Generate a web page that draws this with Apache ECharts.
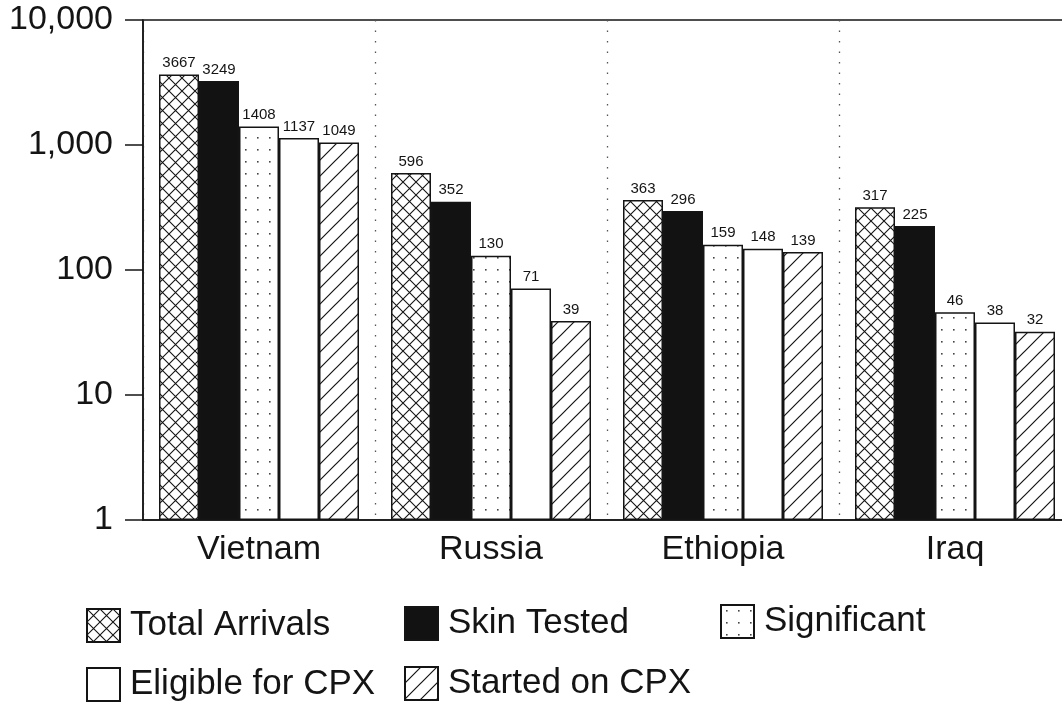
<!DOCTYPE html>
<html>
<head>
<meta charset="utf-8">
<script src="https://cdn.jsdelivr.net/npm/echarts@6/dist/echarts.min.js"></script>
<style>
  html, body { margin: 0; padding: 0; background: #fff; overflow: hidden; }
  /* the source figure is cut off a few pixels past the right edge */
  #chart { width: 1071px; height: 707px; }
</style>
</head>
<body>
<div id="chart"></div>
<script>
// data
var categories = ['Vietnam', 'Russia', 'Ethiopia', 'Iraq'];
var seriesNames = ['Total Arrivals', 'Skin Tested', 'Significant', 'Eligible for CPX', 'Started on CPX'];
var totalArrivals = [3667, 596, 363, 317];
var skinTested = [3249, 352, 296, 225];
var significant = [1408, 130, 159, 46];
var eligible = [1137, 71, 148, 38];
var started = [1049, 39, 139, 32];
var yTicks = [1, 10, 100, 1000, 10000];

var FONT = '"Liberation Sans", Arial, sans-serif';
var INK = '#141414';

// fill patterns
function makeTile(size, draw) {
  var c = document.createElement('canvas');
  c.width = size; c.height = size;
  var ctx = c.getContext('2d');
  ctx.fillStyle = '#fff';
  ctx.fillRect(0, 0, size, size);
  ctx.strokeStyle = INK;
  ctx.fillStyle = INK;
  draw(ctx, size);
  return { image: c, repeat: 'repeat' };
}

var crossFill = makeTile(13, function (ctx, s) {
  ctx.lineWidth = 1.1;
  ctx.beginPath();
  ctx.moveTo(0, 0); ctx.lineTo(s, s);
  ctx.moveTo(s, 0); ctx.lineTo(0, s);
  ctx.stroke();
});
var dotFill = makeTile(12, function (ctx, s) {
  ctx.fillStyle = '#444';
  ctx.fillRect(5, 5, 1.6, 1.6);
});
var hatchFill = makeTile(16, function (ctx, s) {
  ctx.lineWidth = 1.2;
  ctx.beginPath();
  ctx.moveTo(0, s); ctx.lineTo(s, 0);
  ctx.moveTo(-2, 2); ctx.lineTo(2, -2);
  ctx.moveTo(s - 2, s + 2); ctx.lineTo(s + 2, s - 2);
  ctx.stroke();
});
var fills = [crossFill, '#121212', dotFill, '#ffffff', hatchFill];
var values = [totalArrivals, skinTested, significant, eligible, started];

function withCommas(v) {
  return String(Math.round(v)).replace(/\B(?=(\d{3})+(?!\d))/g, ',');
}

var series = seriesNames.map(function (name, i) {
  return {
    name: name,
    type: 'bar',
    data: values[i],
    barWidth: 40,
    barGap: '0%',
    itemStyle: { color: fills[i], borderColor: INK, borderWidth: 1.5 },
    label: {
      show: true,
      position: 'top',
      distance: 4,
      fontSize: 15,
      fontFamily: FONT,
      color: INK
    }
  };
});

// legend slots: [left, top]
var legendSlots = [[86, 608], [404, 606], [720, 604], [86, 667], [404, 666]];
var legends = seriesNames.map(function (name, i) {
  return {
    data: [name],
    left: legendSlots[i][0],
    top: legendSlots[i][1],
    padding: 0,
    icon: 'rect',
    itemWidth: 33,
    itemHeight: 33,
    selectedMode: false,
    textStyle: { fontSize: 35, fontFamily: FONT, color: INK, padding: [4, 0, 0, 5] }
  };
});

var chart = echarts.init(document.getElementById('chart'), null, { renderer: 'canvas' });
chart.setOption({
  backgroundColor: '#fff',
  animation: false,
  grid: {
    left: 143, right: 0, top: 20, bottom: 187,
    show: true, borderColor: INK, borderWidth: 1.5, backgroundColor: 'transparent'
  },
  legend: legends,
  xAxis: {
    type: 'category',
    data: categories,
    axisLine: { show: true, lineStyle: { color: INK, width: 1.5 } },
    axisTick: { show: false },
    axisLabel: { fontSize: 34, fontFamily: FONT, color: INK, margin: 13 },
    splitLine: { show: true, lineStyle: { color: '#555', width: 1.3, type: [1.5, 9] } }
  },
  yAxis: {
    type: 'log',
    logBase: 10,
    min: yTicks[0],
    max: yTicks[yTicks.length - 1],
    axisLine: { show: true, lineStyle: { color: INK, width: 1.5 } },
    axisTick: { show: true, length: 18, lineStyle: { color: INK, width: 1.5 } },
    axisLabel: { fontSize: 34, fontFamily: FONT, color: INK, margin: 30, formatter: withCommas },
    splitLine: { show: false }
  },
  series: series
});
</script>
</body>
</html>
